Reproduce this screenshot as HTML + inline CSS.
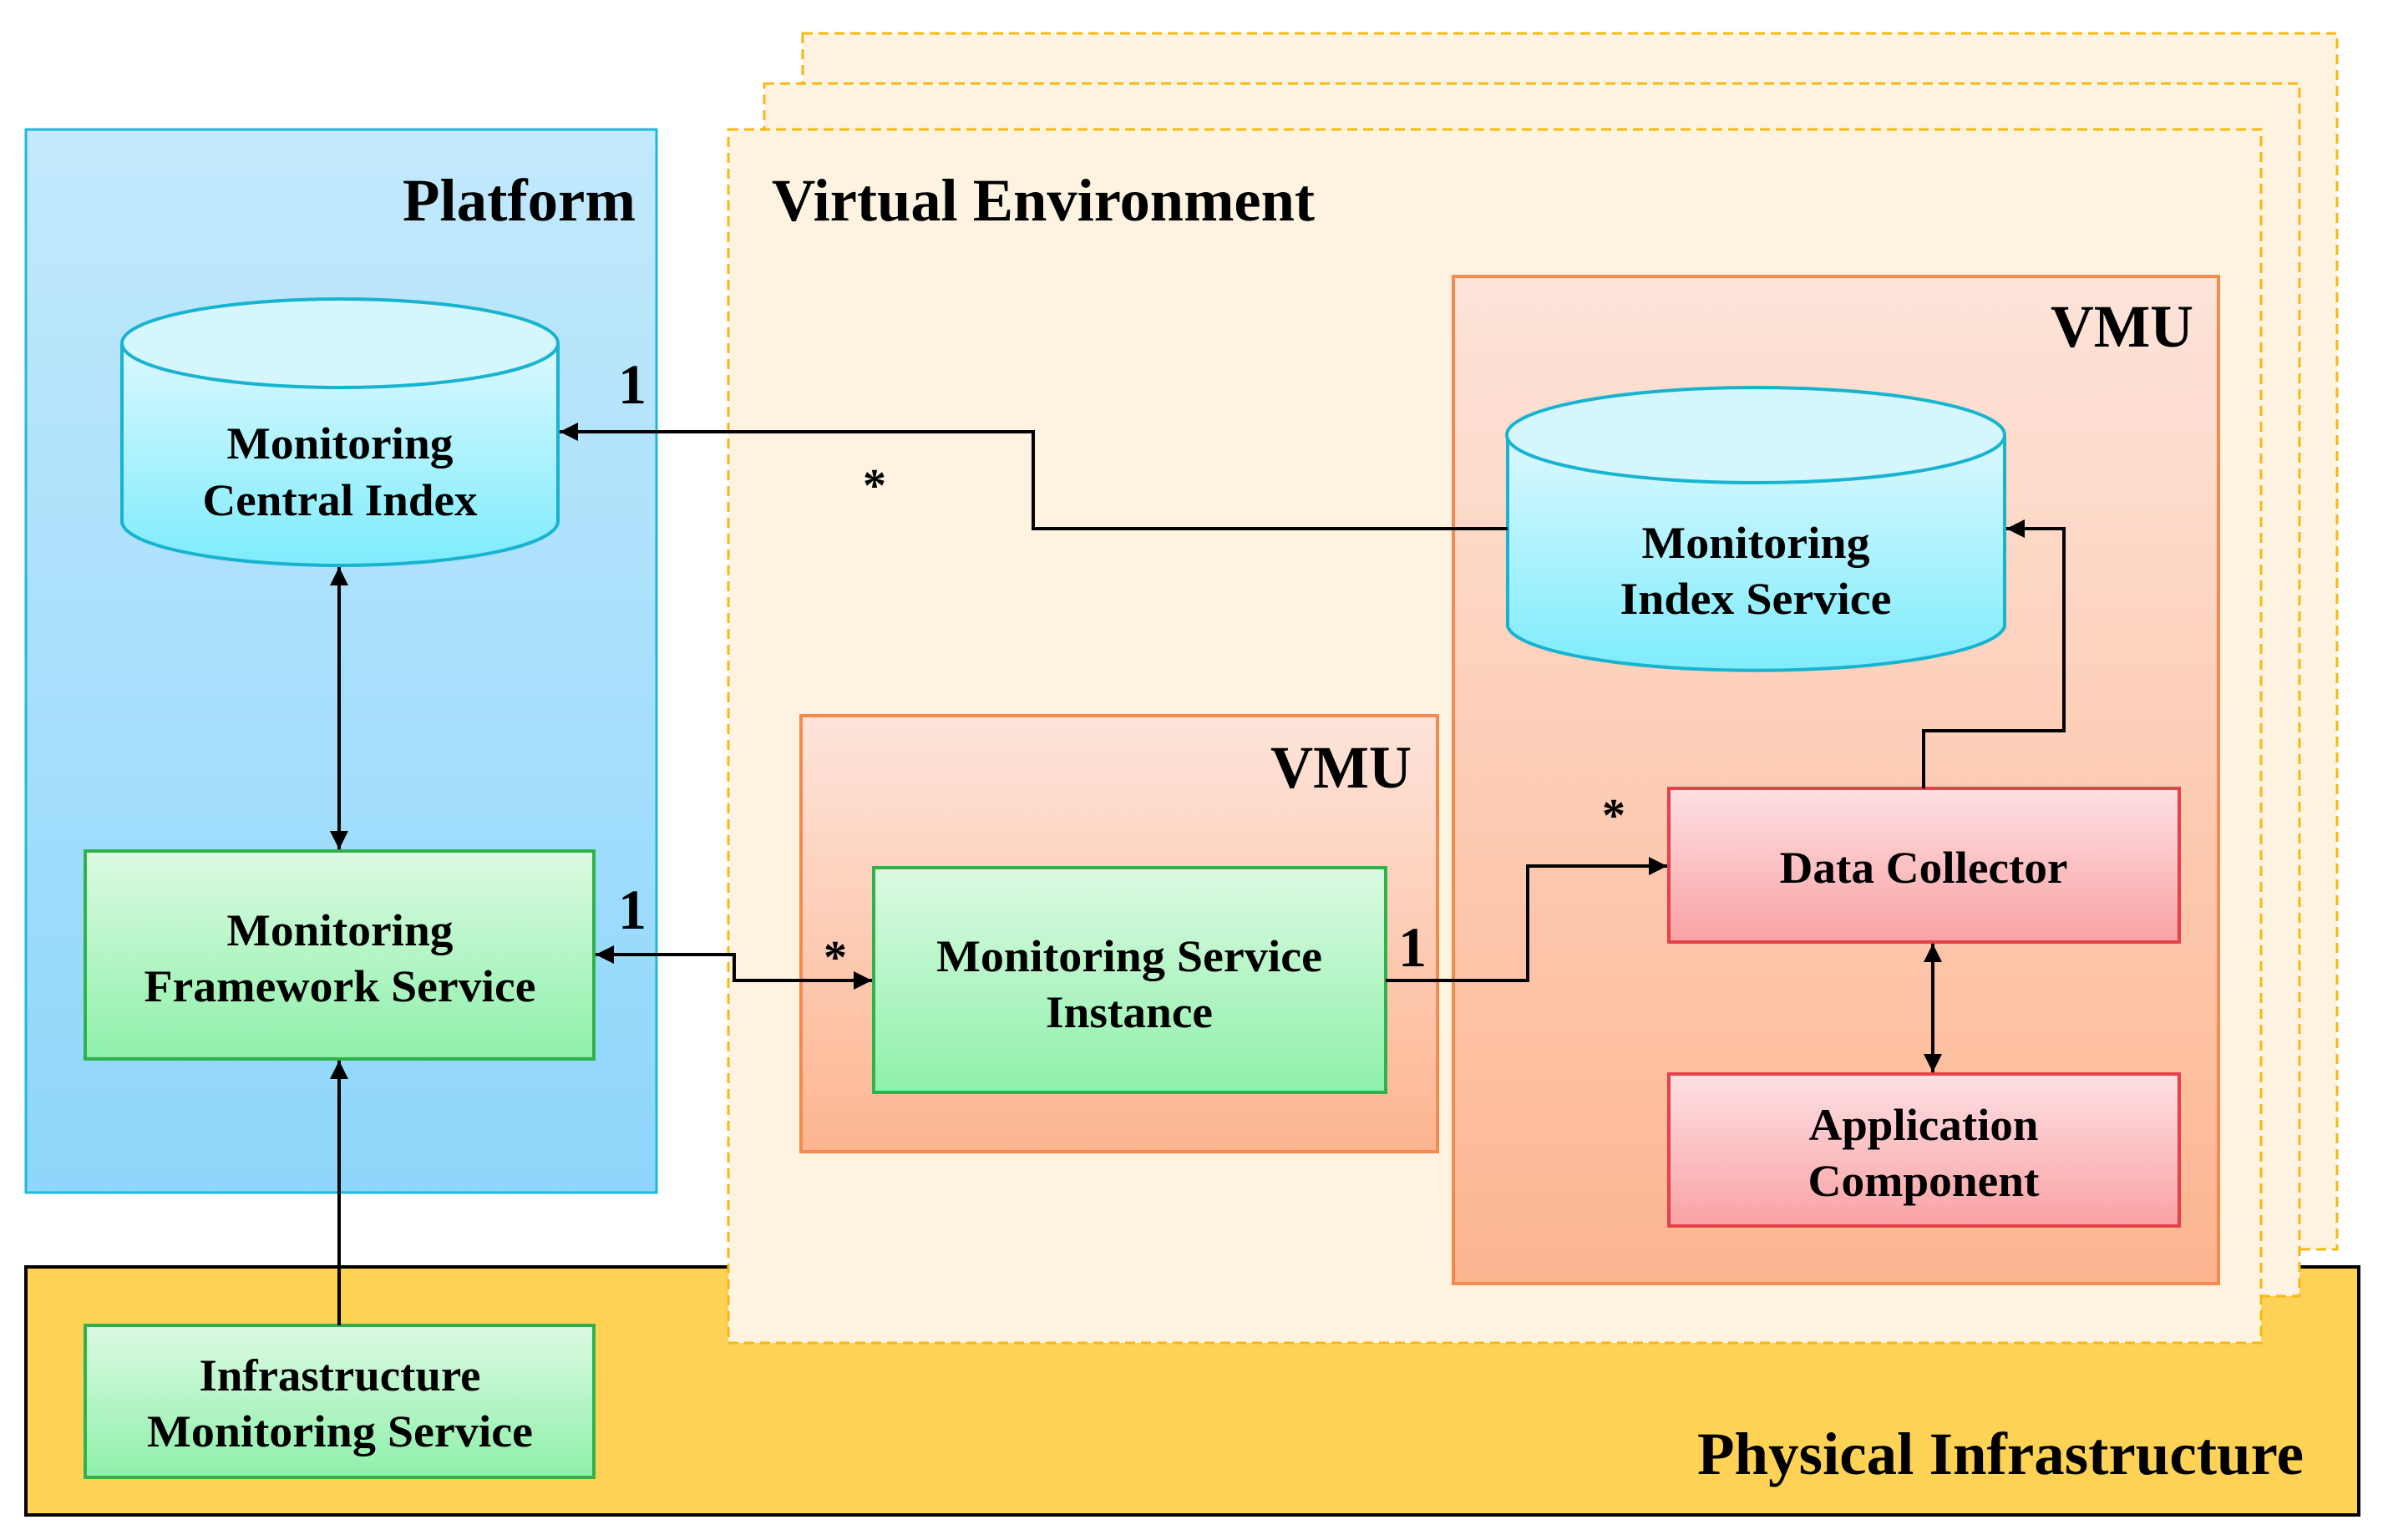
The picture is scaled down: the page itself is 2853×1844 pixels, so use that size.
<!DOCTYPE html>
<html><head><meta charset="utf-8"><style>
html,body{margin:0;padding:0;background:#fff;}
svg{display:block;}
text{font-family:"Liberation Serif",serif;font-weight:bold;fill:#000;}
</style></head><body>
<svg width="2853" height="1844" viewBox="0 0 2853 1844" xmlns="http://www.w3.org/2000/svg">
<defs>
<linearGradient id="gPlat" x1="0" y1="0" x2="0" y2="1"><stop offset="0" stop-color="#c3e9fc"/><stop offset="1" stop-color="#8ed6fb"/></linearGradient>
<linearGradient id="gCyl" x1="0" y1="0" x2="0" y2="1"><stop offset="0" stop-color="#dcf8fe"/><stop offset="1" stop-color="#7eecfc"/></linearGradient>
<linearGradient id="gGreen" x1="0" y1="0" x2="0" y2="1"><stop offset="0" stop-color="#dcfae3"/><stop offset="1" stop-color="#8ef0aa"/></linearGradient>
<linearGradient id="gRed" x1="0" y1="0" x2="0" y2="1"><stop offset="0" stop-color="#fde0e3"/><stop offset="1" stop-color="#f9a2a4"/></linearGradient>
<linearGradient id="gVmu" x1="0" y1="0" x2="0" y2="1"><stop offset="0" stop-color="#fde4da"/><stop offset="1" stop-color="#fdb590"/></linearGradient>
<marker id="ar" viewBox="0 0 10 10" refX="10" refY="5" markerWidth="22" markerHeight="22" markerUnits="userSpaceOnUse" orient="auto-start-reverse"><path d="M0,0 L10,5 L0,10 z" fill="#000"/></marker>
</defs>

<!-- Physical infrastructure -->
<rect x="31" y="1517" width="2793" height="297" fill="#fed355" stroke="#000" stroke-width="4"/>
<text x="2758" y="1765" font-size="72" text-anchor="end" textLength="726" lengthAdjust="spacingAndGlyphs">Physical Infrastructure</text>

<!-- Virtual env stack -->
<rect x="961" y="40" width="1837" height="1456" fill="#fdf3e0" stroke="#f7b814" stroke-width="3" stroke-dasharray="12,7"/>
<rect x="915" y="100" width="1838" height="1452" fill="#fdf3e0" stroke="#f7b814" stroke-width="3" stroke-dasharray="12,7"/>
<rect x="872" y="155" width="1835" height="1453" fill="#fdf3e0" stroke="#f7b814" stroke-width="3" stroke-dasharray="12,7"/>
<text x="924" y="264" font-size="72" textLength="650" lengthAdjust="spacingAndGlyphs">Virtual Environment</text>

<!-- Platform -->
<rect x="31" y="155" width="755" height="1273" fill="url(#gPlat)" stroke="#1fb8d6" stroke-width="3"/>
<text x="761" y="264" font-size="72" text-anchor="end" textLength="279" lengthAdjust="spacingAndGlyphs">Platform</text>

<!-- VMU big -->
<rect x="1740" y="331" width="916" height="1206" fill="url(#gVmu)" stroke="#f58a4e" stroke-width="4"/>
<text x="2626" y="415" font-size="72" text-anchor="end" textLength="171" lengthAdjust="spacingAndGlyphs">VMU</text>
<!-- VMU small -->
<rect x="959" y="857" width="762" height="522" fill="url(#gVmu)" stroke="#f58a4e" stroke-width="4"/>
<text x="1690" y="943" font-size="72" text-anchor="end" textLength="169" lengthAdjust="spacingAndGlyphs">VMU</text>

<!-- Central index cylinder -->
<path d="M146,411 L146,624 A261,53 0 0 0 668,624 L668,411" fill="url(#gCyl)" stroke="#17b3cf" stroke-width="4"/>
<ellipse cx="407" cy="411" rx="261" ry="53" fill="#d5f6fd" stroke="#17b3cf" stroke-width="4"/>
<text x="407" y="549" font-size="54" text-anchor="middle" textLength="271" lengthAdjust="spacingAndGlyphs">Monitoring</text>
<text x="407" y="617" font-size="54" text-anchor="middle" textLength="329" lengthAdjust="spacingAndGlyphs">Central Index</text>

<!-- Index service cylinder -->
<path d="M1805,521 L1805,750 A298,56 0 0 0 2400,750 L2400,521" fill="url(#gCyl)" stroke="#17b3cf" stroke-width="4"/>
<ellipse cx="2102" cy="521" rx="298" ry="57" fill="#d5f6fd" stroke="#17b3cf" stroke-width="4"/>
<text x="2102" y="668" font-size="54" text-anchor="middle" textLength="273" lengthAdjust="spacingAndGlyphs">Monitoring</text>
<text x="2102" y="735" font-size="54" text-anchor="middle" textLength="325" lengthAdjust="spacingAndGlyphs">Index  Service</text>

<!-- Green boxes -->
<rect x="102" y="1019" width="609" height="249" fill="url(#gGreen)" stroke="#2fb24b" stroke-width="4"/>
<text x="407" y="1132" font-size="54" text-anchor="middle" textLength="271" lengthAdjust="spacingAndGlyphs">Monitoring</text>
<text x="407" y="1199" font-size="54" text-anchor="middle" textLength="469" lengthAdjust="spacingAndGlyphs">Framework  Service</text>

<rect x="102" y="1587" width="609" height="182" fill="url(#gGreen)" stroke="#2fb24b" stroke-width="4"/>
<text x="407" y="1665" font-size="54" text-anchor="middle" textLength="337" lengthAdjust="spacingAndGlyphs">Infrastructure</text>
<text x="407" y="1732" font-size="54" text-anchor="middle" textLength="462" lengthAdjust="spacingAndGlyphs">Monitoring Service</text>

<rect x="1046" y="1039" width="613" height="269" fill="url(#gGreen)" stroke="#2fb24b" stroke-width="4"/>
<text x="1352" y="1163" font-size="54" text-anchor="middle" textLength="462" lengthAdjust="spacingAndGlyphs">Monitoring Service</text>
<text x="1352" y="1230" font-size="54" text-anchor="middle" textLength="200" lengthAdjust="spacingAndGlyphs">Instance</text>

<!-- Red boxes -->
<rect x="1998" y="944" width="611" height="184" fill="url(#gRed)" stroke="#e6414a" stroke-width="4"/>
<text x="2303" y="1057" font-size="54" text-anchor="middle" textLength="345" lengthAdjust="spacingAndGlyphs">Data Collector</text>
<rect x="1998" y="1286" width="611" height="182" fill="url(#gRed)" stroke="#e6414a" stroke-width="4"/>
<text x="2303" y="1365" font-size="54" text-anchor="middle" textLength="275" lengthAdjust="spacingAndGlyphs">Application</text>
<text x="2303" y="1432" font-size="54" text-anchor="middle" textLength="277" lengthAdjust="spacingAndGlyphs">Component</text>

<!-- Connectors -->
<g fill="none" stroke="#000" stroke-width="4">
<path d="M1805,633 L1237,633 L1237,517 L670,517" marker-end="url(#ar)"/>
<path d="M406,679 L406,1017" marker-start="url(#ar)" marker-end="url(#ar)"/>
<path d="M406,1587 L406,1270" marker-end="url(#ar)"/>
<path d="M713,1143 L879,1143 L879,1174 L1044,1174" marker-start="url(#ar)" marker-end="url(#ar)"/>
<path d="M1659,1174 L1829,1174 L1829,1037 L1996,1037" marker-end="url(#ar)"/>
<path d="M2303,944 L2303,875 L2471,875 L2471,633 L2402,633" marker-end="url(#ar)"/>
<path d="M2314,1130 L2314,1284" marker-start="url(#ar)" marker-end="url(#ar)"/>
</g>

<!-- Multiplicities -->
<text x="757" y="483" font-size="68" text-anchor="middle">1</text>
<text x="1047" y="600" font-size="56" text-anchor="middle">*</text>
<text x="757" y="1112" font-size="68" text-anchor="middle">1</text>
<text x="1000" y="1165" font-size="56" text-anchor="middle">*</text>
<text x="1691" y="1157" font-size="68" text-anchor="middle">1</text>
<text x="1932" y="995" font-size="56" text-anchor="middle">*</text>
</svg>
</body></html>
